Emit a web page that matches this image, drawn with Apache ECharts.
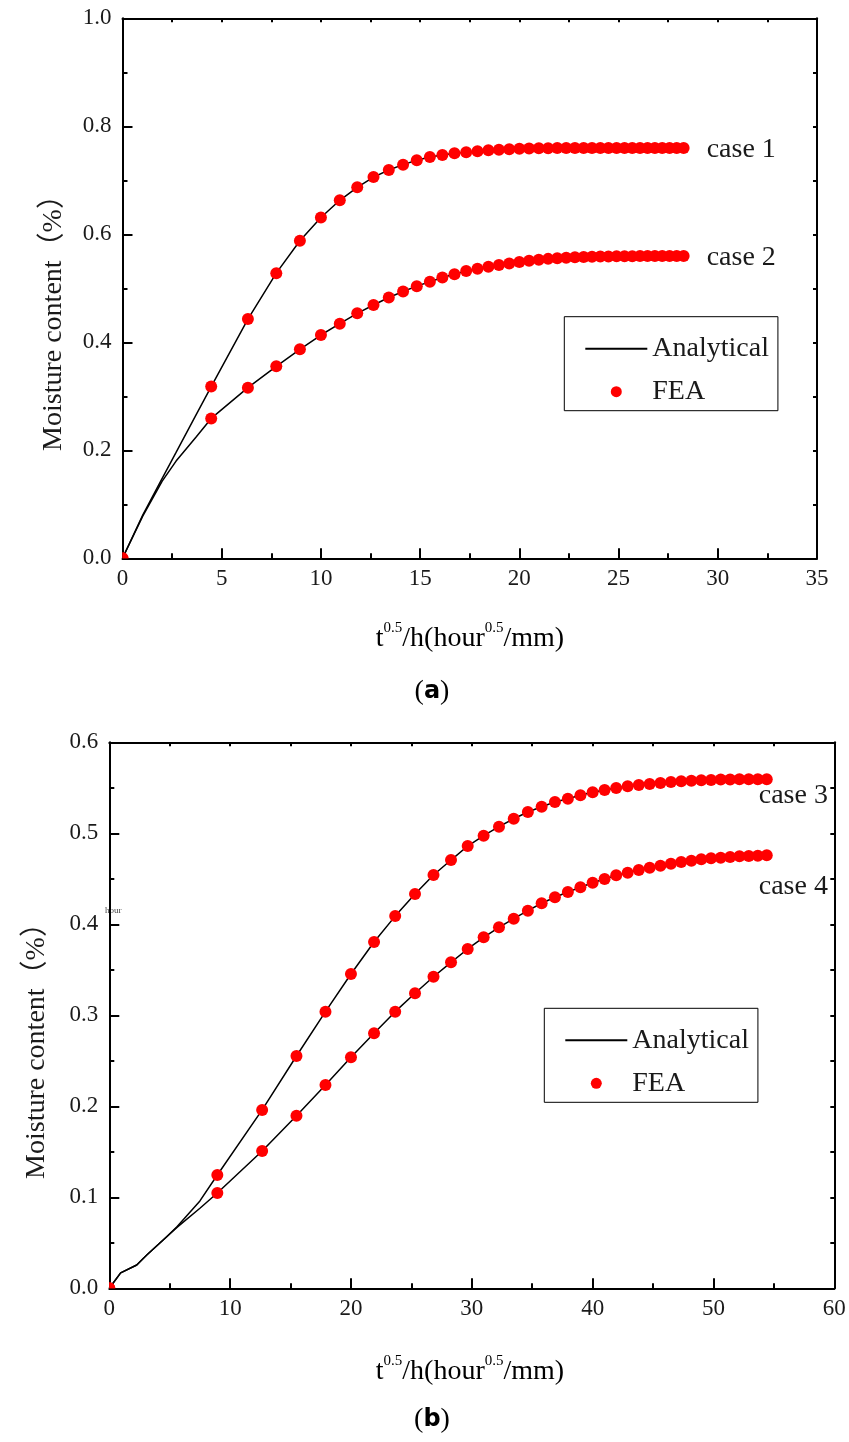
<!DOCTYPE html>
<html>
<head>
<meta charset="utf-8">
<script src="https://cdn.jsdelivr.net/npm/echarts@6/dist/echarts.min.js"></script>
<style>
html,body{margin:0;padding:0;background:#fff;}
#chart{width:849px;height:1442px;}
</style>
</head>
<body>
<div id="chart"></div>
<script>
// ---- Panel (a) ----
const X_A = [0, 4.47, 6.32, 7.75, 8.94, 10.0, 10.95, 11.83, 12.65, 13.42, 14.14, 14.83, 15.49, 16.12, 16.73, 17.32, 17.89, 18.44, 18.97, 19.49, 20.0, 20.49, 20.98, 21.45, 21.91, 22.36, 22.8, 23.24, 23.66, 24.08, 24.49, 24.9, 25.3, 25.69, 26.08, 26.46, 26.83, 27.2, 27.57, 27.93, 28.28];
const CASE1_FEA = [0, 0.318, 0.443, 0.528, 0.588, 0.631, 0.663, 0.687, 0.706, 0.719, 0.729, 0.737, 0.743, 0.747, 0.750, 0.752, 0.754, 0.7555, 0.7567, 0.7576, 0.7583, 0.7588, 0.7592, 0.7594, 0.7596, 0.7597, 0.7598, 0.7599, 0.7599, 0.76, 0.76, 0.76, 0.76, 0.76, 0.76, 0.76, 0.76, 0.76, 0.76, 0.76, 0.76];
const CASE2_FEA = [0, 0.259, 0.316, 0.3555, 0.387, 0.4135, 0.4345, 0.4537, 0.469, 0.483, 0.494, 0.504, 0.512, 0.520, 0.526, 0.532, 0.536, 0.540, 0.543, 0.546, 0.5487, 0.551, 0.553, 0.5545, 0.5555, 0.5565, 0.5573, 0.558, 0.5585, 0.5588, 0.559, 0.5592, 0.5594, 0.5595, 0.5596, 0.5597, 0.5597, 0.5598, 0.5598, 0.5598, 0.5598];
// analytical curve start (before the first FEA point)
const HEAD_X_A = [0, 1.02, 2.0, 2.7, 3.7];
const HEAD_CASE1 = [0, 0.08, 0.148, 0.196, 0.265];
const HEAD_CASE2 = [0, 0.078, 0.143, 0.18, 0.224];

// ---- Panel (b) ----
const X_B = [0, 8.94, 12.65, 15.49, 17.89, 20.0, 21.91, 23.66, 25.3, 26.83, 28.28, 29.66, 30.98, 32.25, 33.47, 34.64, 35.78, 36.88, 37.95, 38.99, 40.0, 40.99, 41.95, 42.9, 43.82, 44.72, 45.61, 46.48, 47.33, 48.17, 48.99, 49.8, 50.6, 51.38, 52.15, 52.92, 53.67, 54.41];
const CASE3_FEA = [0, 0.1245, 0.196, 0.2553, 0.304, 0.3454, 0.3805, 0.409, 0.4333, 0.4542, 0.4706, 0.486, 0.4974, 0.5073, 0.516, 0.5234, 0.5292, 0.5344, 0.538, 0.5418, 0.545, 0.5476, 0.5498, 0.5516, 0.553, 0.5542, 0.5553, 0.5564, 0.5571, 0.5578, 0.5582, 0.5586, 0.559, 0.559, 0.5593, 0.5593, 0.5593, 0.5593];
const CASE4_FEA = [0, 0.1047, 0.1509, 0.1897, 0.2234, 0.2538, 0.2802, 0.304, 0.3242, 0.3424, 0.3582, 0.3729, 0.3857, 0.3967, 0.4062, 0.415, 0.4231, 0.4297, 0.4355, 0.4407, 0.4457, 0.4498, 0.4538, 0.4567, 0.4597, 0.4622, 0.4644, 0.4666, 0.4685, 0.4699, 0.4714, 0.4725, 0.4732, 0.474, 0.4747, 0.4751, 0.4754, 0.4758];
const HEAD_X_B = [0, 0.94, 2.27, 3.1, 4.75, 5.6, 7.5];
const HEAD_CASE3 = [0, 0.017, 0.0256, 0.0366, 0.0567, 0.0677, 0.096];
const HEAD_CASE4 = [0, 0.017, 0.0256, 0.0366, 0.0567, 0.067, 0.088];

const SERIF = "'Liberation Serif','Noto Sans CJK SC',serif";
const TXT = '#1a1a1a';

function pairs(xs, ys) { return xs.map((x, i) => [x, ys[i]]); }
function anaData(hx, hy, xs, ys) { return pairs(hx.concat(xs.slice(1)), hy.concat(ys.slice(1))); }
const ORIGIN_SYMBOL = 'path://M0 0L0 -10A10 10 0 0 1 10 0Z';
function feaData(xs, ys) {
  return pairs(xs, ys).map(p => (p[0] === 0 && p[1] === 0)
    ? { value: p, symbol: ORIGIN_SYMBOL, symbolSize: 6, symbolOffset: [3, -3] }
    : p);
}

function mainX(grid, max, interval, showLabel, pos, majorLen, minorLen) {
  return {
    type: 'value', gridIndex: grid, min: 0, max: max, interval: interval, position: pos,
    axisLine: { show: true, onZero: false, lineStyle: { color: '#000', width: 2 } },
    axisTick: { show: true, inside: true, length: majorLen, lineStyle: { color: '#000', width: 2 } },
    minorTick: { show: true, splitNumber: 2, length: minorLen, lineStyle: { color: '#000', width: 2 } },
    splitLine: { show: false }, minorSplitLine: { show: false },
    axisLabel: { show: showLabel, margin: 9, fontSize: 23, fontFamily: SERIF, color: TXT }
  };
}
function mainY(grid, max, interval, showLabel, pos, majorLen, minorLen) {
  return {
    type: 'value', gridIndex: grid, min: 0, max: max, interval: interval, position: pos,
    axisLine: { show: true, onZero: false, lineStyle: { color: '#000', width: 2 } },
    axisTick: { show: true, inside: true, length: majorLen, lineStyle: { color: '#000', width: 2 } },
    minorTick: { show: true, splitNumber: 2, length: minorLen, lineStyle: { color: '#000', width: 2 } },
    splitLine: { show: false }, minorSplitLine: { show: false },
    axisLabel: { show: showLabel, margin: 11, fontSize: 23, fontFamily: SERIF, color: TXT,
      formatter: v => v.toFixed(1) }
  };
}

function legend(left, top) {
  return {
    show: true, left: left, top: top, orient: 'vertical', selectedMode: false,
    data: [{ name: 'Analytical', itemStyle: { opacity: 0 } }, { name: 'FEA' }],
    itemWidth: 62, itemHeight: 11, itemGap: 13,
    padding: [17, 9, 4, 20],
    borderColor: '#000', borderWidth: 1, backgroundColor: '#fff',
    textStyle: { fontFamily: SERIF, fontSize: 28, lineHeight: 30, color: TXT }
  };
}

const endLbl = (text, offset) => ({
  show: true, formatter: text, distance: 0, offset: offset,
  fontFamily: SERIF, fontSize: 28, color: TXT, align: 'left', verticalAlign: 'middle'
});

const lineStyle = { color: '#000', width: 1.5 };
const feaStyle = { color: '#ff0000', opacity: 1 };

const xNameRich = {
  n: { fontFamily: SERIF, fontSize: 28, color: TXT, lineHeight: 32, verticalAlign: 'bottom' },
  s: { fontFamily: SERIF, fontSize: 15, color: TXT, lineHeight: 32, verticalAlign: 'top' }
};
const xNameText = '{n|t}{s|0.5}{n|/h(hour}{s|0.5}{n|/mm)}';
const capRich = {
  p: { fontFamily: SERIF, fontSize: 28, color: TXT },
  b: { fontFamily: "'DejaVu Sans','Liberation Sans',sans-serif", fontWeight: 'bold', fontSize: 24, color: TXT }
};

const option = {
  animation: false,
  backgroundColor: '#fff',
  grid: [
    { left: 122.5, top: 18.3, width: 694.5, height: 540 },
    { left: 109.3, top: 742.3, width: 725, height: 546 }
  ],
  xAxis: [
    mainX(0, 35, 5, true, 'bottom', 10, 5),
    mainX(0, 35, 5, false, 'top', 4, 4),
    mainX(1, 60, 10, true, 'bottom', 10, 5),
    mainX(1, 60, 10, false, 'top', 4, 4)
  ],
  yAxis: [
    mainY(0, 1.0, 0.2, true, 'left', 10, 5),
    mainY(0, 1.0, 0.2, false, 'right', 4, 4),
    mainY(1, 0.6, 0.1, true, 'left', 10, 5),
    mainY(1, 0.6, 0.1, false, 'right', 4, 4)
  ],
  legend: [legend(564.3, 316.7), legend(544.3, 1008.3)],
  series: [
    { type: 'line', name: 'Analytical', xAxisIndex: 0, yAxisIndex: 0, symbol: 'none', lineStyle: lineStyle, itemStyle: { color: '#000' }, z: 2,
      data: anaData(HEAD_X_A, HEAD_CASE1, X_A, CASE1_FEA), endLabel: endLbl('case 1', [23, 2]) },
    { type: 'line', name: 'Analytical', xAxisIndex: 0, yAxisIndex: 0, symbol: 'none', lineStyle: lineStyle, itemStyle: { color: '#000' }, z: 2,
      data: anaData(HEAD_X_A, HEAD_CASE2, X_A, CASE2_FEA), endLabel: endLbl('case 2', [23, 2]) },
    { type: 'scatter', name: 'FEA', xAxisIndex: 0, yAxisIndex: 0, symbolSize: 12, itemStyle: feaStyle, z: 3,
      data: feaData(X_A, CASE1_FEA) },
    { type: 'scatter', name: 'FEA', xAxisIndex: 0, yAxisIndex: 0, symbolSize: 12, itemStyle: feaStyle, z: 3,
      data: feaData(X_A, CASE2_FEA) },

    { type: 'line', name: 'Analytical', xAxisIndex: 2, yAxisIndex: 2, symbol: 'none', lineStyle: lineStyle, itemStyle: { color: '#000' }, z: 2,
      data: anaData(HEAD_X_B, HEAD_CASE3, X_B, CASE3_FEA), endLabel: endLbl('case 3', [-8, 16]) },
    { type: 'line', name: 'Analytical', xAxisIndex: 2, yAxisIndex: 2, symbol: 'none', lineStyle: lineStyle, itemStyle: { color: '#000' }, z: 2,
      data: anaData(HEAD_X_B, HEAD_CASE4, X_B, CASE4_FEA), endLabel: endLbl('case 4', [-8, 31]) },
    { type: 'scatter', name: 'FEA', xAxisIndex: 2, yAxisIndex: 2, symbolSize: 12, itemStyle: feaStyle, z: 3,
      data: feaData(X_B, CASE3_FEA) },
    { type: 'scatter', name: 'FEA', xAxisIndex: 2, yAxisIndex: 2, symbolSize: 12, itemStyle: feaStyle, z: 3,
      data: feaData(X_B, CASE4_FEA) }
  ],
  graphic: [
    { type: 'text', rotation: Math.PI / 2, x: 54, y: 316,
      style: { text: 'Moisture content（%）', font: "28px " + SERIF, fill: TXT, align: 'center', verticalAlign: 'middle' } },
    { type: 'text', rotation: Math.PI / 2, x: 37, y: 1044,
      style: { text: 'Moisture content（%）', font: "28px " + SERIF, fill: TXT, align: 'center', verticalAlign: 'middle' } },
    { type: 'text', x: 470, y: 637,
      style: { text: xNameText, rich: xNameRich, align: 'center', verticalAlign: 'middle' } },
    { type: 'text', x: 470, y: 1370,
      style: { text: xNameText, rich: xNameRich, align: 'center', verticalAlign: 'middle' } },
    { type: 'text', x: 432, y: 692,
      style: { text: '{p|(}{b|a}{p|)}', align: 'center', verticalAlign: 'middle', rich: capRich } },
    { type: 'text', x: 432, y: 1420,
      style: { text: '{p|(}{b|b}{p|)}', align: 'center', verticalAlign: 'middle', rich: capRich } },
    { type: 'text', x: 105, y: 911, z: -1,
      style: { text: 'hour', font: "9px " + SERIF, fill: '#444', align: 'left', verticalAlign: 'middle' } }
  ]
};

const chart = echarts.init(document.getElementById('chart'), null, { renderer: 'canvas' });
chart.setOption(option);
</script>
</body>
</html>
